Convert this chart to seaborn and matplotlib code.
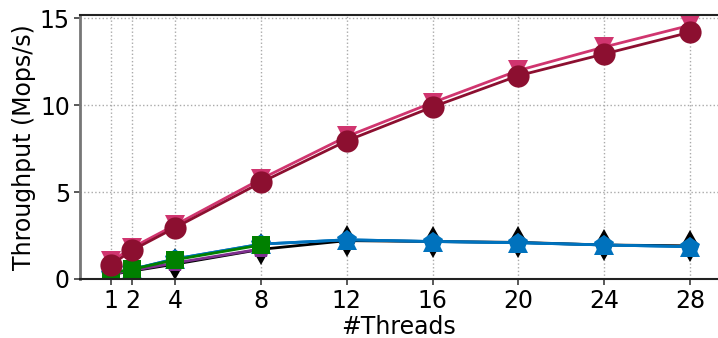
import numpy as np
import pandas as pd
import matplotlib
matplotlib.use("Agg")
import matplotlib.pyplot as plt
import seaborn as sns

threads = [1, 2, 4, 8, 12, 16, 20, 24, 28]
threads_low = [1, 2, 4, 8]
black_d = [0.25, 0.45, 0.85, 1.7, 2.2, 2.15, 2.1, 1.95, 1.9]
blue_h = [0.3, 0.55, 1.15, 2.0, 2.25, 2.15, 2.08, 1.95, 1.85]
purple_p = [0.28, 0.48, 0.92, 1.72]
green_s = [0.35, 0.55, 1.1, 1.95]
pink_v = [1.0, 1.8, 3.1, 5.75, 8.2, 10.15, 12.0, 13.35, 14.6]
red_o = [0.8, 1.65, 2.95, 5.55, 7.95, 9.9, 11.7, 12.95, 14.2]

series = [
    (threads, black_d, "#000000", "d", 16),
    (threads, blue_h, "#0072bd", "p", 15),
    (threads, blue_h, "#0072bd", "^", 14),
    (threads_low, purple_p, "#7e2f8e", "p", 14),
    (threads_low, green_s, "#008000", "s", 13),
    (threads, pink_v, "#d0356f", "v", 15),
    (threads, red_o, "#8c0f30", "o", 16),
]

sns.set_theme(style="whitegrid")
plt.rcParams['font.family'] = ['DejaVu Sans']
plt.rcParams['text.color'] = 'black'
plt.rcParams['axes.labelcolor'] = 'black'
plt.rcParams['xtick.color'] = 'black'
plt.rcParams['ytick.color'] = 'black'

fig = plt.figure(figsize=(7.18, 3.38), dpi=100)
ax = fig.add_axes([0.111, 0.175, 0.889, 0.781])

for xs, vals, col, mk, ms in series:
    df = pd.DataFrame({"threads": xs, "tp": vals})
    sns.lineplot(data=df, x="threads", y="tp", ax=ax, color=col, marker=mk,
                 markersize=ms, linewidth=2, markeredgewidth=0, legend=False)

ax.set_xlim(-0.45, 29.3)
ax.set_ylim(0, 15.2)
ax.set_xticks(threads)
ax.set_yticks([0, 5, 10, 15])
ax.tick_params(axis='both', labelsize=17, length=4, color='#444444', left=True, bottom=True, pad=3)
ax.set_xlabel("#Threads", fontsize=17, labelpad=2)
ax.set_ylabel("Throughput (Mops/s)", fontsize=17, labelpad=3)
ax.set_facecolor("white")
ax.grid(True, linestyle=':', color='#aaaaaa', linewidth=1)
for s in ['top', 'bottom']:
    ax.spines[s].set_color('#222222')
    ax.spines[s].set_linewidth(1.5)
ax.spines['left'].set_color('#777777')
ax.spines['left'].set_linewidth(2)
ax.spines['right'].set_visible(False)

fig.savefig("out.png", dpi=100)
